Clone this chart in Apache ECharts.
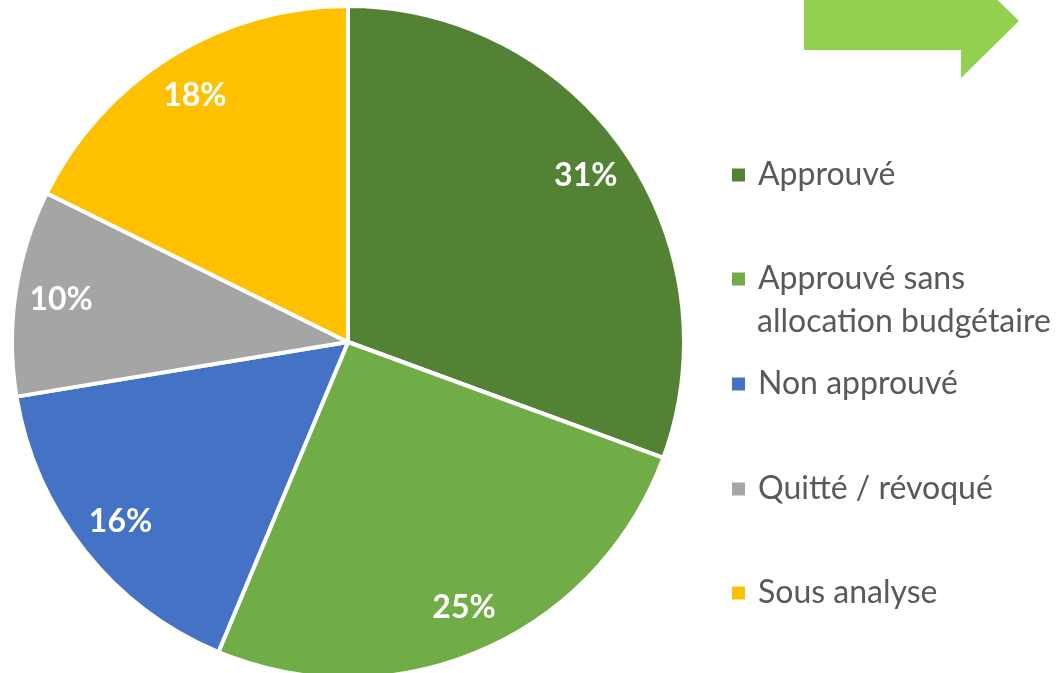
<!DOCTYPE html>
<html>
<head>
<meta charset="utf-8">
<script src="https://cdn.jsdelivr.net/npm/echarts@6/dist/echarts.min.js"></script>
<style>
  html, body { margin: 0; padding: 0; background: #fff; }
  #chart { width: 1063px; height: 673px; }
</style>
</head>
<body>
<div id="chart"></div>
<script>
  const categories = ['Approuvé', 'Approuvé sans allocation budgétaire', 'Non approuvé', 'Quitté / révoqué', 'Sous analyse'];
  const values = [30.6, 25.7, 16.1, 9.9, 17.7];
  // percentages as printed on the slices
  const labels = ['31%', '25%', '16%', '10%', '18%'];
  const colors = ['#548235', '#70AD47', '#4472C4', '#A5A5A5', '#FFC000'];
  // legend item centres (px), one legend per item
  const legendCenters = [175, 279, 384, 489, 593];

  const pieData = categories.map((name, i) => ({ name, value: values[i], itemStyle: { color: colors[i] } }));
  const center = [348, 342];

  const legends = categories.map((name, i) => ({
    data: [name],
    orient: 'vertical',
    left: 730,
    top: legendCenters[i] - 20,
    padding: 0,
    icon: 'rect',
    itemWidth: 15,
    itemHeight: 15,
    selectedMode: false,
    formatter: (n) => n === categories[1] ? 'Approuvé sans' : n,
    textStyle: {
      fontFamily: 'Lato',
      fontSize: 32,
      color: '#595959',
      lineHeight: 40,
      padding: [0, 0, 0, 7]
    }
  }));

  const chart = echarts.init(document.getElementById('chart'));
  chart.setOption({
    animation: false,
    backgroundColor: '#fff',
    legend: legends,
    graphic: [
      {
        type: 'polygon',
        shape: { points: [[804, -8], [961, -8], [961, -36], [1019, 21], [961, 78], [961, 50], [804, 50]] },
        style: { fill: '#92D050' }
      },
      {
        type: 'text',
        left: 757,
        top: legendCenters[1] + 43 - 20,
        style: {
          text: 'allocation budgétaire',
          fontFamily: 'Lato',
          fontSize: 32,
          lineHeight: 40,
          fill: '#595959'
        }
      }
    ],
    series: [
      {
        type: 'pie',
        center: center,
        radius: [0, 336],
        startAngle: 90,
        clockwise: true,
        label: { show: false },
        labelLine: { show: false },
        itemStyle: { borderColor: '#fff', borderWidth: 4 },
        emphasis: { disabled: true },
        data: pieData
      },
      {
        // carries the percentage labels further out than 'inside' would
        type: 'pie',
        center: center,
        radius: [212, 362],
        startAngle: 90,
        clockwise: true,
        silent: true,
        itemStyle: { color: 'rgba(0,0,0,0)', borderWidth: 0 },
        emphasis: { disabled: true },
        labelLine: { show: false },
        label: {
          show: true,
          position: 'inside',
          formatter: (p) => labels[p.dataIndex],
          fontFamily: 'Lato',
          fontWeight: 'bold',
          fontSize: 32,
          color: '#fff'
        },
        data: categories.map((name, i) => ({ name, value: values[i] }))
      }
    ]
  });
</script>
</body>
</html>
